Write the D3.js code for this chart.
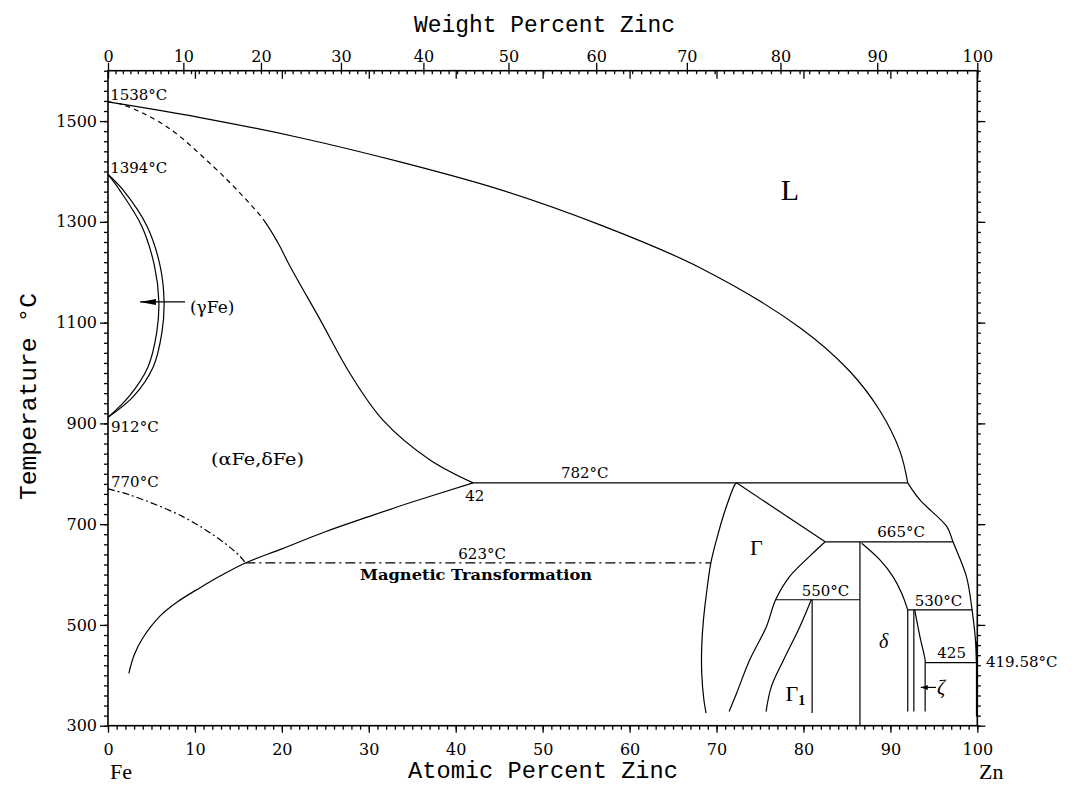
<!DOCTYPE html>
<html><head><meta charset="utf-8">
<script src="https://cdn.jsdelivr.net/npm/d3@7"></script>
<style>body{margin:0;background:#fff}svg{display:block}</style>
</head><body>
<svg id="c" width="1086" height="785"></svg>
<script>
// ---------- tick values ----------
const atomicTicks = [0,10,20,30,40,50,60,70,80,90,100];
const weightTicks = [0,10,20,30,40,50,60,70,80,90,100];
const tempTicks = [300,500,700,900,1100,1300,1500];

// ---------- phase boundaries [atomic % Zn, °C] ----------
const liquidusHigh = [[0,1538],[10.6,1507],[22.1,1467],[33.6,1419],[45.1,1364],[56.6,1294],[68.1,1209],[79.6,1090],[85.3,1004],[88.8,925],[91.1,845],[92.0,782]];
const liquidusLow = [[92.0,782],[93.4,748],[96.5,695],[97.2,665],[98.75,596],[99.4,530],[99.65,495],[99.8,467],[99.9,425]];
// delta-Fe liquidus/solidus: first points dashed (metastable), rest solid
const solidusDelta = [[0,1538],[1.8,1532],[6.75,1489],[12.1,1410],[15.3,1355],[17.9,1304],[19.5,1260],[21.0,1210],[24.4,1106],[27.8,1000],[31.6,907],[37.0,828],[42.0,782]];
const solidusDashedCount = 6;
const alphaSolvus = [[2.4,404],[3.0,440],[4.0,474],[6.0,518],[8.0,546],[10.6,574],[13.0,598],[15.8,623],[20,651],[25,685],[30,715],[35,744],[42,782]];
const magneticCurve = [[0,770],[2.5,758],[8.6,715],[12.9,669],[15.2,636],[15.8,623]];
const magneticLine = [[15.8,623],[69.35,623]];
const gammaOuter = [[0,1394],[1.7,1364],[4.5,1291],[6.0,1212],[6.45,1142],[6.2,1080],[5.2,1012],[2.9,953],[0,912]];
const gammaInner = [[0,1394],[1.3,1364],[3.9,1291],[5.35,1212],[5.85,1142],[5.6,1080],[4.6,1012],[2.4,953],[0,912]];
const line782 = [[42.0,782],[92.0,782]];
const gammaTop = [[72.3,782],[82.5,665]];
const gammaLeft = [[72.3,782],[72.1,778],[71.0,728],[70.0,669],[69.35,623],[68.85,563],[68.5,510],[68.3,457],[68.3,404],[68.55,351],[68.8,325]];
const line665 = [[82.5,665],[97.2,665]];
const gammaRight = [[82.5,665],[80.7,636],[78.4,596],[76.8,550],[75.75,497],[73.8,430],[72.3,364],[71.45,328]];
const line550 = [[76.8,550],[86.5,550]];
const gamma1Left = [[80.9,550],[79.6,497],[77.7,430],[76.3,377],[75.7,328]];
const gamma1Right = [[81.0,550],[81.0,325]];
const deltaLeft = [[86.5,665],[86.5,300]];
const deltaRight = [[86.7,662],[88.8,629],[90.3,596],[91.3,563],[92.0,530]];
const line530 = [[92.0,530],[99.4,530]];
const deltaZeta = [[92.0,530],[92.0,328]];
const zetaLeft = [[92.7,530],[92.7,328]];
const zetaRight = [[92.8,530],[93.4,477],[94.0,430],[94.0,425]];
const zetaRightLow = [[94.0,425],[94.0,328]];
const line425 = [[94.0,425],[99.9,425]];
const znSolidus = [[99.93,467],[99.93,318]];

// ---------- annotations [text, at%, °C] ----------
const smallLabels = [
  ["1538°C",0.25,1542],["1394°C",0.25,1397],["912°C",0.35,883],["770°C",0.35,774],
  ["782°C",52.1,791],["42",41.1,746],["623°C",40.3,631],["665°C",88.5,674],
  ["550°C",79.8,557],["530°C",92.8,538],["425",95.4,434],["419.58°C",101.0,416]
];

// ---------- layout ----------
const svg = d3.select("#c");
const x = d3.scaleLinear().domain([0,100]).range([108,977.3]);
const y = d3.scaleLinear().domain([300,1600]).range([725.7,70.7]);
// weight% -> atomic% (Zn 65.38, Fe 55.845)
const wToA = w => { const a=w/65.38, b=(100-w)/55.845; return 100*a/(a+b); };
const wDom = d3.range(0,101,1);
const xw = d3.scaleLinear().domain(wDom).range(wDom.map(w=>x(wToA(w))));

const tickFont = "'DejaVu Serif', serif";
function styleAxis(g){ g.select(".domain").remove(); g.selectAll("line").attr("stroke","#000").attr("stroke-width",1.3);
  g.selectAll("text").attr("font-family",tickFont).attr("font-size",16).attr("fill","#000"); }
const fmt = d3.format("d");

const bottomY = y(300), topY = y(1600), leftX = x(0), rightX = x(100);
// bottom
svg.append("g").attr("transform",`translate(0,${bottomY})`).call(d3.axisBottom(x).tickValues(d3.range(0,101,1)).tickSize(4).tickFormat("")).call(styleAxis);
svg.append("g").attr("transform",`translate(0,${bottomY})`).call(d3.axisBottom(x).tickValues(atomicTicks).tickSize(7).tickPadding(11).tickFormat(fmt)).call(styleAxis);
// top (weight percent outward, atomic inward)
svg.append("g").attr("transform",`translate(0,${topY})`).call(d3.axisBottom(xw).tickValues(d3.range(0,101,1)).tickSize(3.5).tickFormat("")).call(styleAxis);
svg.append("g").attr("transform",`translate(0,${topY})`).call(d3.axisBottom(x).tickValues(atomicTicks).tickSize(8).tickFormat("")).call(styleAxis);
svg.append("g").attr("transform",`translate(0,${topY})`).call(d3.axisTop(xw).tickValues(weightTicks).tickSize(8).tickPadding(1).tickFormat(fmt)).call(styleAxis);
// left
svg.append("g").attr("transform",`translate(${leftX},0)`).call(d3.axisLeft(y).tickValues(d3.range(300,1601,20)).tickSize(4).tickFormat("")).call(styleAxis);
svg.append("g").attr("transform",`translate(${leftX},0)`).call(d3.axisLeft(y).tickValues(tempTicks).tickSize(8).tickPadding(3).tickFormat(fmt)).call(styleAxis);
// right
svg.append("g").attr("transform",`translate(${rightX},0)`).call(d3.axisRight(y).tickValues(d3.range(300,1601,20)).tickSize(3.5).tickFormat("")).call(styleAxis);
svg.append("g").attr("transform",`translate(${rightX},0)`).call(d3.axisRight(y).tickValues(tempTicks).tickSize(8).tickFormat("")).call(styleAxis);
// frame
svg.append("rect").attr("x",leftX).attr("y",topY).attr("width",rightX-leftX).attr("height",bottomY-topY)
  .attr("fill","none").attr("stroke","#000").attr("stroke-width",1.6);

// ---------- curves ----------
const smooth = d3.line().x(d=>x(d[0])).y(d=>y(d[1])).curve(d3.curveCatmullRom.alpha(0.5));
const straight = d3.line().x(d=>x(d[0])).y(d=>y(d[1]));
const g = svg.append("g").attr("fill","none").attr("stroke","#000").attr("stroke-width",1.2);
function draw(data, gen, dash){ const p=g.append("path").attr("d",gen(data)); if(dash) p.attr("stroke-dasharray",dash); return p; }
draw(liquidusHigh,smooth); draw(liquidusLow,smooth);
// partly dashed solidus: dash pattern up to the end of the dashed part, then solid
{
  const p = draw(solidusDelta,smooth);
  const tmp = g.append("path").attr("d",smooth(solidusDelta.slice(0,solidusDashedCount)));
  const L = tmp.node().getTotalLength(); tmp.remove();
  const total = p.node().getTotalLength();
  const arr=[]; let s=0;
  while(s+9<=L){ arr.push(5,4); s+=9; }
  const r=L-s; arr.push(Math.min(5,r), Math.max(0,r-5)); arr.push(total+20, 0);
  p.attr("stroke-dasharray", arr.join(","));
}
draw(alphaSolvus,smooth);
draw(magneticCurve,smooth,"7,3,2,3"); draw(magneticLine,straight,"10,4,2,4");
draw(gammaOuter,smooth); draw(gammaInner,smooth);
draw(line782,straight); draw(gammaTop,straight); draw(gammaLeft,smooth);
draw(line665,straight); draw(gammaRight,smooth); draw(line550,straight);
draw(gamma1Left,smooth); draw(gamma1Right,straight); draw(deltaLeft,straight);
draw(deltaRight,smooth); draw(line530,straight); draw(deltaZeta,straight);
draw(zetaLeft,straight); draw(zetaRight,smooth); draw(zetaRightLow,straight);
draw(line425,straight); draw(znSolidus,straight).attr("stroke-width",1.6);

// ---------- arrows ----------
function arrow(tip, tail, len, half){
  const tx=x(tip[0]), ty=y(tip[1]), ex=x(tail[0]);
  svg.append("line").attr("x1",tx).attr("y1",ty).attr("x2",ex).attr("y2",ty).attr("stroke","#000").attr("stroke-width",1.2);
  svg.append("path").attr("d",`M${tx},${ty}L${tx+len},${ty-half}L${tx+len},${ty+half}Z`).attr("fill","#000");
}
arrow([3.68,1141],[8.86,1141],16,3);
arrow([93.5,376],[95.25,376],7,2.5);

// ---------- texts ----------
const lab = svg.append("g").attr("fill","#000");
smallLabels.forEach(([t,a,T])=>{
  lab.append("text").attr("x",x(a)).attr("y",y(T)).attr("font-family",tickFont).attr("font-size",15).text(t);
});
lab.append("text").attr("x",x(11.85)).attr("y",y(817)).attr("font-family",tickFont).attr("font-size",17)
  .attr("textLength",93).attr("lengthAdjust","spacingAndGlyphs").text("(αFe,δFe)");
lab.append("text").attr("x",x(9.43)).attr("y",y(1119)).attr("font-family",tickFont).attr("font-size",17).text("(γFe)");
lab.append("text").attr("x",x(29.0)).attr("y",y(589)).attr("font-family",tickFont).attr("font-size",14).attr("font-weight","bold")
  .attr("textLength",232).attr("lengthAdjust","spacingAndGlyphs").text("Magnetic Transformation");
lab.append("text").attr("x",x(77.4)).attr("y",y(1343)).attr("font-family","'Liberation Serif', serif").attr("font-size",30).text("L");
lab.append("text").attr("x",x(73.85)).attr("y",y(639)).attr("font-family","'Liberation Serif', serif").attr("font-size",22).text("Γ");
const g1 = lab.append("text").attr("x",x(77.93)).attr("y",y(349)).attr("font-family","'Liberation Serif', serif").attr("font-size",22);
g1.append("tspan").text("Γ"); g1.append("tspan").attr("font-size",14).attr("font-weight","bold").attr("dy",4).text("1");
lab.append("text").attr("x",x(88.7)).attr("y",y(454)).attr("font-family","'Liberation Serif', serif").attr("font-style","italic").attr("font-size",20).text("δ");
lab.append("text").attr("x",x(95.36)).attr("y",y(362)).attr("font-family","'Liberation Serif', serif").attr("font-style","italic").attr("font-size",20).text("ζ");

const titleFont = "'Liberation Mono', monospace";
lab.append("text").attr("x",414).attr("y",32).attr("font-family",titleFont).attr("font-size",24)
  .attr("textLength",261).attr("lengthAdjust","spacingAndGlyphs").text("Weight Percent Zinc");
lab.append("text").attr("x",408).attr("y",778).attr("font-family",titleFont).attr("font-size",23)
  .attr("textLength",270).attr("lengthAdjust","spacingAndGlyphs").text("Atomic Percent Zinc");
lab.append("text").attr("transform","translate(36,500) rotate(-90)").attr("font-family",titleFont).attr("font-size",24)
  .attr("textLength",207).attr("lengthAdjust","spacingAndGlyphs").text("Temperature °C");
lab.append("text").attr("x",110).attr("y",779).attr("font-family","'Liberation Serif', serif").attr("font-size",22).text("Fe");
lab.append("text").attr("x",979).attr("y",779).attr("font-family","'Liberation Serif', serif").attr("font-size",22).text("Zn");
</script>
</body></html>
